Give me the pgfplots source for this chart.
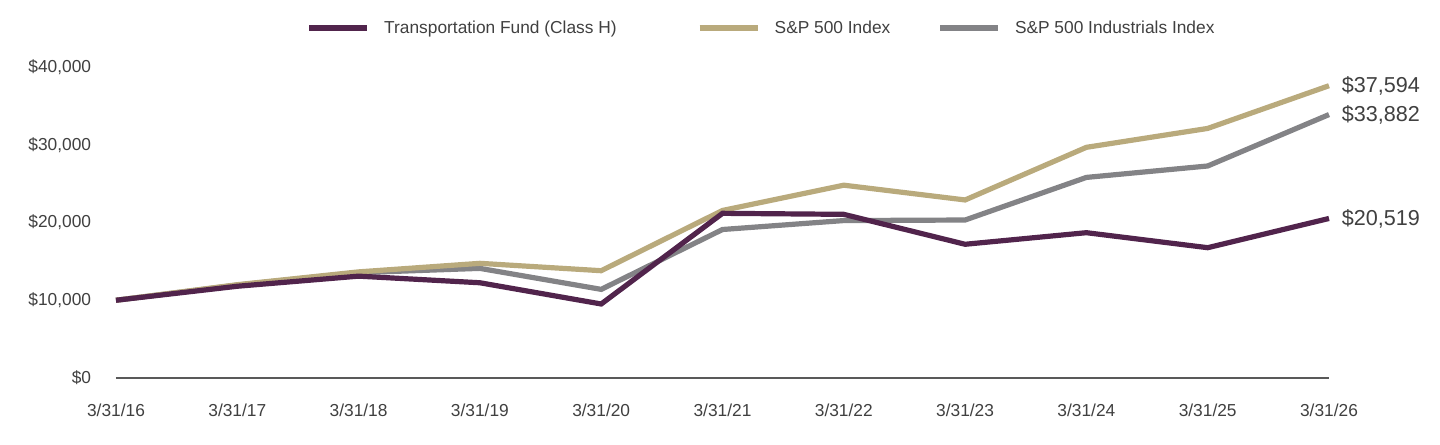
\documentclass[border=0pt]{standalone}
\usepackage{fontspec}
\setmainfont{Liberation Sans}
\usepackage{pgfplots}
\pgfplotsset{compat=1.18}
\usepackage{pgfplotstable}

\definecolor{fundpurple}{HTML}{51244C}
\definecolor{sptan}{HTML}{B9AA7C}
\definecolor{indgray}{HTML}{838386}
\definecolor{txtgray}{HTML}{404040}
\definecolor{axgray}{HTML}{595959}

% Growth of a $10,000 investment, year ends 3/31
\pgfplotstableread{
x  fund   sp     ind
0  10000  10000  10000
1  11800  12000  11950
2  13100  13650  13550
3  12250  14750  14100
4  9520   13800  11400
5  21180  21550  19100
6  21050  24800  20250
7  17200  22900  20320
8  18690  29670  25800
9  16760  32100  27270
10 20519  37594  33882
}\growth

\begin{document}
\begin{tikzpicture}
\path[use as bounding box] (0,0) rectangle (1080pt,333pt);
\begin{axis}[
  at={(87pt,49.5pt)}, anchor=south west,
  scale only axis, width=909.75pt, height=233.25pt,
  xmin=0, xmax=10, ymin=0, ymax=40000,
  scaled y ticks=false,
  axis x line*=bottom, axis y line*=left,
  x axis line style={draw=axgray, line width=1.5pt},
  y axis line style={draw=none},
  major tick length=0pt,
  tick style={draw=none},
  xtick={0,...,10},
  xticklabels={3/31/16,3/31/17,3/31/18,3/31/19,3/31/20,3/31/21,3/31/22,3/31/23,3/31/24,3/31/25,3/31/26},
  ytick={0,10000,20000,30000,40000},
  yticklabels={{\$0},{\$10,000},{\$20,000},{\$30,000},{\$40,000}},
  tick label style={font=\fontsize{13}{15}\selectfont, text=txtgray},
  xticklabel style={inner sep=0pt, anchor=north, yshift=-19pt},
  yticklabel style={inner sep=0pt, anchor=east, xshift=-18.5pt},
  clip=false,
  legend columns=3,
  legend style={
    at={(axis description cs:0.1566,1.1254)}, anchor=west,
    draw=none, fill=none, inner sep=0pt,
    font=\fontsize{13}{15}\selectfont, text=txtgray,
    nodes={inner sep=0pt},
    /tikz/every odd column/.style={column sep=10.5pt},
    /tikz/column 2/.style={column sep=60pt},
    /tikz/column 4/.style={column sep=35pt},
  },
  legend image code/.code={\draw[#1, line width=4.5pt] (0pt,0pt) -- (43.5pt,0pt);},
]
\addlegendimage{fundpurple}
\addlegendentry{Transportation Fund (Class H)}
\addlegendimage{sptan}
\addlegendentry{S\&P 500 Index}
\addlegendimage{indgray}
\addlegendentry{S\&P 500 Industrials Index}

\addplot[indgray, line width=3.9pt, forget plot] table[x=x, y=ind] {\growth};
\addplot[sptan, line width=3.9pt, forget plot] table[x=x, y=sp] {\growth};
\addplot[fundpurple, line width=3.9pt, forget plot] table[x=x, y=fund] {\growth};

\node[anchor=west, text=txtgray, font=\fontsize{16.2}{18}\selectfont, inner sep=0pt, xshift=9.5pt] at (axis cs:10,37594) {\$37,594};
\node[anchor=west, text=txtgray, font=\fontsize{16.2}{18}\selectfont, inner sep=0pt, xshift=9.5pt] at (axis cs:10,33882) {\$33,882};
\node[anchor=west, text=txtgray, font=\fontsize{16.2}{18}\selectfont, inner sep=0pt, xshift=9.5pt] at (axis cs:10,20519) {\$20,519};
\end{axis}
\end{tikzpicture}
\end{document}
